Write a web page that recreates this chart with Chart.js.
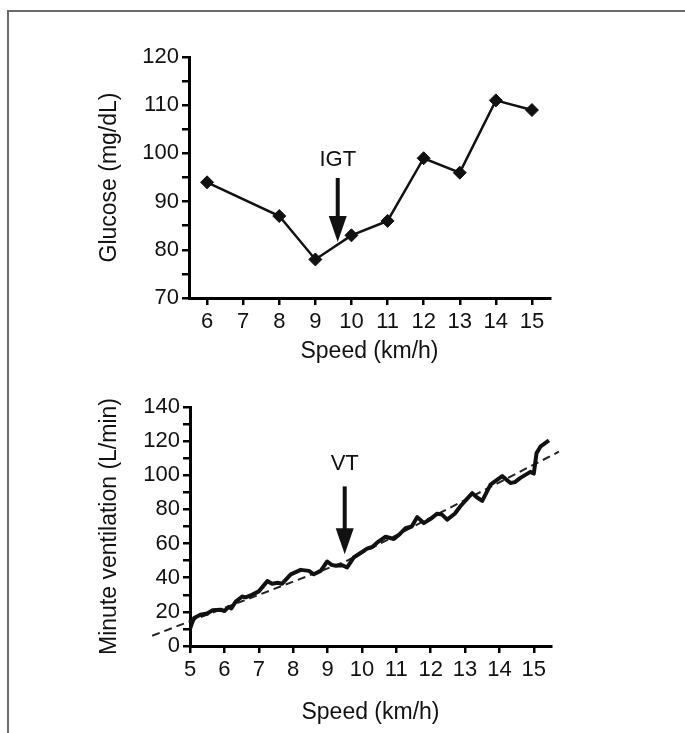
<!DOCTYPE html>
<html>
<head>
<meta charset="utf-8">
<script src="https://cdn.jsdelivr.net/npm/chart.js@4.4.0/dist/chart.umd.min.js"></script>
<style>
  body { margin: 0; background: #fff; width: 685px; height: 733px; overflow: hidden; position: relative; }
  .frame { position: absolute; left: 7px; top: 10px; right: -5px; bottom: -5px; border-top: 2px solid #6b6b6b; border-left: 2px solid #6b6b6b; }
  canvas { position: absolute; left: 0; }
  #glucose { top: 0; }
  #ventilation { top: 380px; }
</style>
</head>
<body>
<div class="frame"></div>
<canvas id="glucose" width="685" height="380"></canvas>
<canvas id="ventilation" width="685" height="353"></canvas>
<script>
// top panel: blood glucose per stage
const glucoseSpeed = [6, 8, 9, 10, 11, 12, 13, 14, 15];
const glucoseValue = [94, 87, 78, 83, 86, 99, 96, 111, 109];
const glucoseTicksX = [6, 7, 8, 9, 10, 11, 12, 13, 14, 15];

// bottom panel: minute ventilation trace
const ventSpeed = [5.0, 5.05, 5.12, 5.3, 5.5, 5.65, 5.89, 6.0, 6.12, 6.2, 6.33, 6.52, 6.62, 6.76, 7.0, 7.25, 7.39, 7.55, 7.68, 7.93,
  8.22, 8.46, 8.6, 8.8, 8.99, 9.12, 9.24, 9.43, 9.57, 9.77, 9.96, 10.15, 10.3, 10.44, 10.69, 10.93, 11.1, 11.27, 11.45, 11.61, 11.8, 12.0, 12.19,
  12.33, 12.48, 12.7, 12.87, 13.05, 13.21, 13.35, 13.5, 13.74, 14.08, 14.32, 14.45, 14.61, 14.9, 15.0, 15.08, 15.2, 15.44];
const ventValue = [10, 13, 16.4, 18.3, 19, 20.9, 21.3, 20.5, 22.8, 22, 26, 29, 28.5, 29.6, 32, 38, 36.5, 37, 36.5, 42,
  44.6, 44, 42, 44, 49.5, 47.5, 47, 47.3, 46, 52, 54.5, 57, 58, 60.5, 64, 62.7, 65.5, 69, 70, 75.5, 72, 74.5, 77.5,
  77, 74, 77.5, 82, 86, 89.5, 87, 85, 94.5, 99.5, 95.5, 96, 98.5, 102, 101, 113, 117, 120.5];
const fitSpeed = [3.9, 9.5, 15.73];
const fitValue = [6, 49.3, 113.8];
const ventTicksX = [5, 6, 7, 8, 9, 10, 11, 12, 13, 14, 15];

const igtMark = { label: "IGT", x: 9.62, textY: 98.6, fromY: 94.9, toY: 81.6 };
const vtMark = { label: "VT", x: 9.5, textY: 106.5, fromY: 93.5, toY: 53.8 };

Chart.defaults.font.family = "'Liberation Sans', Arial, sans-serif";
Chart.defaults.color = "#111";

const arrowPlugin = {
  id: "arrow",
  afterDatasetsDraw(chart, args, opts) {
    const mark = opts.mark;
    if (!mark) return;
    const { ctx } = chart;
    const x = chart.scales.x.getPixelForValue(mark.x);
    const yText = chart.scales.y.getPixelForValue(mark.textY);
    const yFrom = chart.scales.y.getPixelForValue(mark.fromY);
    const yTo = chart.scales.y.getPixelForValue(mark.toY);
    ctx.save();
    ctx.fillStyle = "#111";
    ctx.strokeStyle = "#111";
    ctx.font = "22px 'Liberation Sans', Arial, sans-serif";
    ctx.textAlign = "center";
    ctx.textBaseline = "middle";
    ctx.fillText(mark.label, x, yText);
    ctx.lineWidth = 4;
    ctx.beginPath();
    ctx.moveTo(x, yFrom);
    ctx.lineTo(x, yTo - 22);
    ctx.stroke();
    ctx.beginPath();
    ctx.moveTo(x - 9, yTo - 26);
    ctx.lineTo(x + 9, yTo - 26);
    ctx.lineTo(x, yTo);
    ctx.closePath();
    ctx.fill();
    ctx.restore();
  }
};

const axisGrid = { drawOnChartArea: false, drawTicks: true, tickLength: 7, lineWidth: 2.5, tickWidth: 2.5, tickColor: "#000" };
const axisBorder = { color: "#000", width: 3 };

function yScale(min, max, step, labelEvery, title, width) {
  return {
    min, max,
    ticks: { stepSize: step, autoSkip: false, padding: 3, font: { size: 22 }, callback: (v) => v % labelEvery === 0 ? v : "" },
    grid: axisGrid,
    border: axisBorder,
    title: { display: true, text: title, font: { size: 23 }, padding: { top: 16, bottom: 0 } },
    afterFit: (s) => { s.width = width; }
  };
}

function xScale(min, max, tickValues, height) {
  return {
    type: "linear", min, max,
    afterBuildTicks: (s) => { s.ticks = tickValues.map((v) => ({ value: v })); },
    ticks: { autoSkip: false, maxRotation: 0, padding: 4, font: { size: 22 } },
    grid: axisGrid,
    border: axisBorder,
    title: { display: true, text: "Speed (km/h)", font: { size: 23 }, padding: { top: 0, bottom: 3 } },
    afterFit: (s) => { s.height = height; }
  };
}

new Chart(document.getElementById("glucose"), {
  type: "scatter",
  data: {
    datasets: [{
      data: glucoseSpeed.map((s, i) => ({ x: s, y: glucoseValue[i] })),
      showLine: true,
      borderColor: "#111",
      borderWidth: 2.5,
      pointStyle: "rectRot",
      pointRadius: 6.5,
      pointBackgroundColor: "#111",
      pointBorderColor: "#111",
      pointBorderWidth: 1
    }]
  },
  options: {
    responsive: false,
    animation: false,
    events: [],
    layout: { padding: { left: 80, top: 57, right: 135, bottom: 12 } },
    plugins: { legend: { display: false }, tooltip: { enabled: false }, arrow: { mark: igtMark } },
    scales: {
      x: xScale(5.5, 15.5, glucoseTicksX, 70),
      y: yScale(70, 120, 5, 10, "Glucose (mg/dL)", 109)
    }
  },
  plugins: [arrowPlugin]
});

new Chart(document.getElementById("ventilation"), {
  type: "scatter",
  data: {
    datasets: [
      {
        data: ventSpeed.map((s, i) => ({ x: s, y: ventValue[i] })),
        showLine: true,
        borderColor: "#111",
        borderWidth: 4,
        borderJoinStyle: "round",
        pointRadius: 0
      },
      {
        data: fitSpeed.map((s, i) => ({ x: s, y: fitValue[i] })),
        showLine: true,
        borderColor: "#222",
        borderWidth: 2,
        borderDash: [8, 5],
        pointRadius: 0,
        clip: false
      }
    ]
  },
  options: {
    responsive: false,
    animation: false,
    events: [],
    layout: { padding: { left: 80, top: 27, right: 134, bottom: 4 } },
    plugins: { legend: { display: false }, tooltip: { enabled: false }, arrow: { mark: vtMark } },
    scales: {
      x: xScale(5, 15.5, ventTicksX, 83),
      y: yScale(0, 140, 10, 20, "Minute ventilation (L/min)", 110)
    }
  },
  plugins: [arrowPlugin]
});
</script>
</body>
</html>
